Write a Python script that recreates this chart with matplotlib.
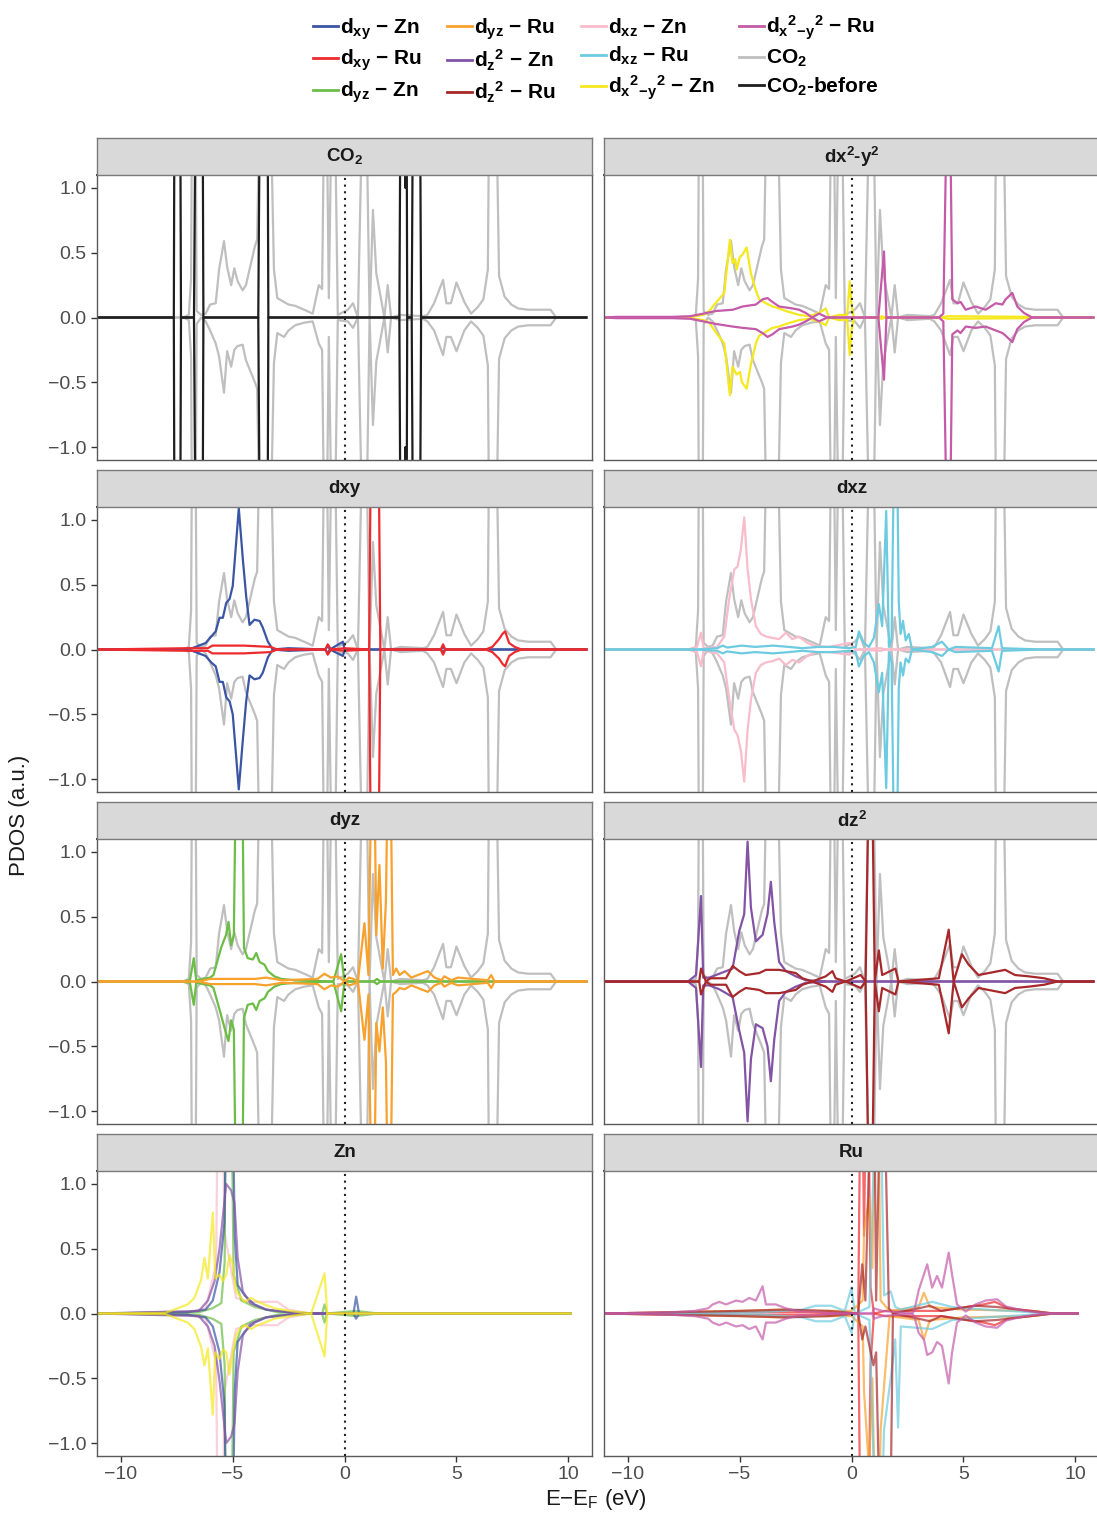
import numpy as np
import matplotlib.pyplot as plt
from matplotlib.lines import Line2D

plt.rcParams['font.family'] = ['Liberation Sans', 'DejaVu Sans']
plt.rcParams['mathtext.fontset'] = 'custom'
plt.rcParams['mathtext.rm'] = 'Liberation Sans'
plt.rcParams['mathtext.bf'] = 'Liberation Sans:bold'
plt.rcParams['mathtext.it'] = 'Liberation Sans:italic'
plt.rcParams['mathtext.default'] = 'bf'

# ---- data (energy in eV, spin-up and spin-down magnitudes) ----
# values above the axis range (clipped peaks) are rough estimates
co2_e = [-11.0, -7.2, -6.95, -6.85, -6.78, -6.68, -6.6, -6.4, -6.2, -6.0, -5.75, -5.6, -5.38, -5.24, -5.06,
         -4.92, -4.77, -4.55, -4.4, -4.0, -3.9, -3.7, -3.4, -3.15, -3.0, -2.7, -2.5, -2.2, -1.8, -1.42,
         -1.15, -1.0, -0.85, -0.7, -0.5, -0.3, 0.15, 0.38, 0.6, 0.9, 1.12, 1.27, 1.42, 1.56, 1.78,
         1.93, 2.08, 2.5, 3.5, 3.7, 4.0, 4.4, 4.55, 4.75, 5.0, 5.35, 5.65, 5.95, 6.2, 6.4,
         6.5, 6.7, 6.9, 7.15, 7.45, 7.75, 8.2, 9.2, 9.45, 10.8]
co2_up = [0, 0, 0.02, 0.3, 2.5, 2.5, 0.05, 0.02, 0.03, 0.1, 0.11, 0.37, 0.59, 0.39, 0.25,
          0.38, 0.28, 0.21, 0.25, 0.55, 0.6, 2.5, 2.5, 0.37, 0.15, 0.12, 0.1, 0.09, 0.06, 0.03,
          0.25, 0.22, 2.5, 0.15, 2.5, 0.02, 0.06, 0.11, 0.0, 2.5, 0.0, 0.83, 0.34, 0.21, 0.0,
          0.25, 0.0, 0.02, 0.01, 0.02, 0.11, 0.29, 0.11, 0.11, 0.27, 0.12, 0.03, 0.08, 0.14, 0.37,
          2.5, 2.5, 0.32, 0.16, 0.1, 0.07, 0.06, 0.06, 0.0, 0]
co2_dn = [0, 0, 0.02, 0.3, 2.5, 2.5, 0.05, 0.0, 0.03, 0.1, 0.2, 0.3, 0.58, 0.26, 0.38,
          0.25, 0.22, 0.21, 0.33, 0.5, 0.55, 2.5, 2.5, 0.35, 0.12, 0.15, 0.1, 0.06, 0.04, 0.03,
          0.2, 0.25, 2.5, 0.15, 2.5, 0.02, 0.03, 0.08, 0.0, 2.5, 0.0, 0.83, 0.34, 0.21, 0.0,
          0.27, 0.0, 0.02, 0.01, 0.03, 0.1, 0.29, 0.15, 0.15, 0.26, 0.1, 0.03, 0.08, 0.14, 0.37,
          2.5, 2.5, 0.32, 0.16, 0.1, 0.07, 0.06, 0.06, 0.0, 0]

before_e = [-11.0, -7.62, -7.58, -7.35, -7.3, -6.72, -6.62, -6.35, -6.3, -3.85, -3.75, -3.45, -3.4,
            2.45, 2.52, 2.68, 2.72, 2.76, 2.8, 3.0, 3.08, 3.35, 3.42, 10.8]
before_up = [0, 0, 2.5, 2.5, 0, 0, 2.5, 2.5, 0, 0, 2.5, 2.5, 0,
             0, 2.5, 2.5, 1.0, 2.5, 0, 0, 2.5, 2.5, 0, 0]
before_dn = before_up

# d(x2-y2) - Zn
x2zn_e = [-11.0, -7.3, -7.0, -6.6, -6.35, -6.12, -5.68, -5.43, -5.31, -5.19, -5.13, -4.98, -4.89, -4.68,
          -4.49, -4.27, -4.12, -3.82, -3.53, -3.23, -2.93, -2.64, -2.34, -1.89, -1.45, -1.15, -1.0,
          -0.56, -0.19, -0.08, 0.0, 0.11, 1.2, 1.35, 1.5, 4.0, 4.3, 8.0, 8.3, 10.8]
x2zn_up = [0, 0, 0.01, 0.02, 0.05, 0.1, 0.19, 0.6, 0.42, 0.45, 0.37, 0.47, 0.48, 0.54,
           0.34, 0.21, 0.14, 0.11, 0.085, 0.07, 0.05, 0.035, 0.02, 0.01, 0.035, 0.07, 0.0,
           0.02, 0.02, 0.28, 0.1, 0.0, 0.0, 0.01, 0, 0, 0.01, 0.005, 0, 0]
x2zn_dn = [0, 0, 0.01, 0.02, 0.04, 0.1, 0.2, 0.6, 0.38, 0.42, 0.44, 0.42, 0.5, 0.55,
           0.36, 0.2, 0.14, 0.11, 0.08, 0.07, 0.05, 0.035, 0.02, 0.01, 0.03, 0.06, 0.0,
           0.02, 0.02, 0.29, 0.1, 0.0, 0.0, 0.01, 0, 0, 0.01, 0.005, 0, 0]

# d(x2-y2) - Ru
x2ru_e = [-11.0, -10.5, -8.0, -7.2, -6.9, -6.05, -5.3, -4.86, -4.27, -3.97, -3.75, -3.53, -3.23, -2.64,
          -2.34, -2.04, -1.75, -1.45, -1.08, 1.2, 1.45, 1.56, 3.9, 4.1, 4.34, 4.5, 4.73, 4.87,
          5.1, 5.54, 5.99, 6.44, 6.74, 6.88, 7.18, 7.4, 7.7, 8.06, 10.8]
x2ru_up = [0, 0.005, 0.005, 0.01, 0.02, 0.05, 0.06, 0.085, 0.1, 0.14, 0.15, 0.12, 0.085, 0.07,
           0.06, 0.035, 0.0, 0.03, 0.0, 0.0, 0.51, 0.0, 0.0, 0.03, 2.5, 0.14, 0.11, 0.12,
           0.06, 0.085, 0.06, 0.11, 0.1, 0.14, 0.19, 0.085, 0.035, 0.0, 0]
x2ru_dn = [0, 0.005, 0.005, 0.01, 0.02, 0.05, 0.07, 0.08, 0.09, 0.12, 0.15, 0.13, 0.09, 0.07,
           0.055, 0.03, 0.0, 0.03, 0.0, 0.0, 0.48, 0.0, 0.0, 0.03, 2.5, 0.13, 0.1, 0.12,
           0.07, 0.08, 0.07, 0.1, 0.12, 0.14, 0.19, 0.09, 0.035, 0.0, 0]

# dxy - Zn
xyzn_e = [-11.0, -7.2, -6.8, -6.2, -5.95, -5.75, -5.58, -5.43, -5.28, -5.13, -4.99, -4.84, -4.72, -4.54,
          -4.39, -4.24, -4.02, -3.79, -3.65, -3.42, -3.2, -2.5, -0.85, -0.75, -0.65, -0.07, 0.0,
          4.3, 4.4, 4.5, 10.8]
xyzn_up = [0, 0, 0.01, 0.05, 0.1, 0.14, 0.245, 0.245, 0.36, 0.39, 0.49, 0.82, 1.09, 0.7,
           0.41, 0.19, 0.23, 0.22, 0.17, 0.06, 0.0, 0.01, 0.0, 0.03, 0.0, 0.06, 0.0,
           0, 0.02, 0, 0]
xyzn_dn = [0, 0, 0.01, 0.05, 0.1, 0.13, 0.25, 0.25, 0.37, 0.4, 0.5, 0.82, 1.08, 0.7,
           0.4, 0.2, 0.23, 0.22, 0.18, 0.06, 0.0, 0.01, 0.0, 0.03, 0.0, 0.05, 0.0,
           0, 0.02, 0, 0]

# dxy - Ru
xyru_e = [-11.0, -7.0, -6.1, -5.9, -4.5, -3.3, -3.0, -0.85, -0.75, -0.6, 0.0, 1.1, 1.22, 1.48, 1.6,
          4.3, 4.4, 4.5, 6.3, 6.6, 6.9, 7.05, 7.17, 7.35, 7.6, 7.9, 10.8]
xyru_up = [0, 0.01, 0.01, 0.03, 0.03, 0.02, 0.0, 0.0, 0.04, 0.0, 0.01, 0.0, 2.5, 2.5, 0.0,
           0.0, 0.04, 0.0, 0.0, 0.02, 0.08, 0.12, 0.14, 0.05, 0.02, 0.0, 0]
xyru_dn = [0, 0.01, 0.01, 0.03, 0.03, 0.02, 0.0, 0.0, 0.04, 0.0, 0.01, 0.0, 2.5, 2.5, 0.0,
           0.0, 0.04, 0.0, 0.0, 0.02, 0.07, 0.11, 0.13, 0.05, 0.02, 0.0, 0]

# dxz - Zn
xzzn_e = [-11.0, -7.3, -6.9, -6.72, -6.6, -6.0, -5.68, -5.46, -5.23, -5.09, -4.94, -4.79, -4.64, -4.49,
          -4.27, -4.05, -3.82, -3.53, -3.23, -2.93, -2.64, -2.34, -1.97, -1.6, -1.0, -0.1, 0.2,
          1.3, 1.5, 8.0, 10.8]
xzzn_up = [0, 0, 0.02, 0.13, 0.01, 0.02, 0.1, 0.39, 0.62, 0.64, 0.77, 1.02, 0.62, 0.39,
           0.18, 0.12, 0.1, 0.09, 0.08, 0.13, 0.08, 0.1, 0.05, 0.025, 0.02, 0.05, 0.0,
           0.01, 0, 0, 0]
xzzn_dn = [0, 0, 0.02, 0.13, 0.01, 0.03, 0.1, 0.38, 0.62, 0.66, 0.78, 1.02, 0.62, 0.39,
           0.18, 0.12, 0.1, 0.09, 0.07, 0.12, 0.08, 0.1, 0.05, 0.02, 0.02, 0.04, 0.0,
           0.01, 0, 0, 0]

# dxz - Ru
xzru_e = [-11.0, -7.0, -6.0, -5.75, -5.55, -4.9, -4.3, -3.5, -2.8, -2.2, -1.5, -0.8, -0.1, 0.19,
          0.33, 0.55, 0.78, 1.0, 1.22, 1.37, 1.55, 1.67, 1.79, 1.97, 2.11, 2.19, 2.3, 2.42,
          2.56, 2.7, 3.6, 4.04, 4.34, 4.64, 6.27, 6.57, 6.72, 8.5, 10.8]
xzru_up = [0, 0, 0.01, 0.03, 0.015, 0.03, 0.02, 0.03, 0.02, 0.01, 0.02, 0.02, 0.01, 0.02,
           0.14, 0.05, 0.02, 0.09, 0.35, 0.18, 1.07, 0.02, 0.08, 2.5, 0.37, 0.12, 0.22, 0.07,
           0.12, 0.0, 0.02, 0.06, 0.0, 0.02, 0.01, 0.18, 0.01, 0.0, 0]
xzru_dn = [0, 0, 0.01, 0.03, 0.015, 0.03, 0.02, 0.03, 0.02, 0.01, 0.02, 0.02, 0.01, 0.02,
           0.13, 0.05, 0.02, 0.1, 0.33, 0.18, 1.07, 0.02, 0.1, 2.5, 0.3, 0.1, 0.2, 0.07,
           0.1, 0.0, 0.02, 0.05, 0.0, 0.02, 0.01, 0.17, 0.01, 0.0, 0]

# dyz - Zn
yzzn_e = [-11.0, -7.3, -6.9, -6.73, -6.62, -6.0, -5.85, -5.51, -5.29, -5.18, -5.06, -4.94, -4.79, -4.61,
          -4.49, -4.32, -4.09, -3.94, -3.79, -3.57, -3.42, -3.13, -2.83, -2.23, -0.5, -0.15, 0.0,
          1.3, 1.45, 1.6, 10.8]
yzzn_up = [0, 0, 0.01, 0.18, 0.01, 0.03, 0.05, 0.26, 0.36, 0.46, 0.28, 0.36, 2.5, 2.5,
           0.26, 0.18, 0.17, 0.22, 0.15, 0.13, 0.08, 0.04, 0.02, 0.01, 0.0, 0.21, 0.0,
           0.0, 0.02, 0, 0]
yzzn_dn = [0, 0, 0.01, 0.18, 0.01, 0.03, 0.05, 0.26, 0.4, 0.46, 0.3, 0.37, 2.5, 2.5,
           0.28, 0.18, 0.17, 0.22, 0.15, 0.13, 0.08, 0.04, 0.02, 0.01, 0.0, 0.23, 0.0,
           0.0, 0.02, 0, 0]

# dyz - Ru
yzru_e = [-11.0, -6.5, -6.0, -5.0, -4.0, -3.5, -2.8, -1.2, -0.9, -0.6, -0.3, 0.0, 0.2, 0.4, 0.6,
          0.89, 1.07, 1.27, 1.42, 1.56, 1.71, 1.85, 2.0, 2.16, 2.31, 2.46, 2.68, 2.98, 3.72,
          4.02, 4.32, 4.46, 4.76, 5.06, 6.4, 6.55, 6.7, 10.8]
yzru_up = [0, 0.0, 0.02, 0.02, 0.02, 0.03, 0.01, 0.02, 0.06, 0.03, 0.04, 0.0, 0.03, 0.02, 0.0,
           0.45, 0.05, 2.5, 0.36, 0.9, 0.1, 0.62, 2.5, 0.05, 0.1, 0.05, 0.08, 0.03, 0.08,
           0.03, 0.01, 0.04, 0.01, 0.03, 0.01, 0.05, 0.0, 0]
yzru_dn = [0, 0.0, 0.02, 0.02, 0.02, 0.03, 0.01, 0.02, 0.06, 0.03, 0.04, 0.0, 0.03, 0.02, 0.0,
           0.45, 0.1, 2.5, 0.32, 0.54, 0.2, 0.62, 2.5, 0.1, 0.08, 0.05, 0.06, 0.03, 0.08,
           0.03, 0.01, 0.04, 0.01, 0.03, 0.01, 0.05, 0.0, 0]

# dz2 - Zn
z2zn_e = [-11.0, -7.3, -6.94, -6.72, -6.62, -6.35, -5.9, -5.6, -5.31, -5.01, -4.79, -4.64, -4.49, -4.27,
          -3.97, -3.75, -3.6, -3.45, -3.23, -2.93, -2.49, -2.04, -1.0, 10.8]
z2zn_up = [0, 0, 0.05, 0.66, 0.03, 0.03, 0.06, 0.08, 0.1, 0.39, 0.52, 1.08, 0.57, 0.31,
           0.36, 0.52, 0.77, 0.46, 0.15, 0.08, 0.04, 0.01, 0, 0]
z2zn_dn = [0, 0, 0.05, 0.66, 0.03, 0.03, 0.06, 0.09, 0.12, 0.38, 0.55, 1.08, 0.6, 0.33,
           0.36, 0.5, 0.77, 0.45, 0.15, 0.08, 0.04, 0.01, 0, 0]

# dz2 - Ru
z2ru_e = [-11.0, -6.8, -6.72, -6.5, -6.3, -5.6, -5.31, -5.01, -4.72, -4.12, -3.82, -3.23, -2.93, -2.49,
          -2.19, -1.75, -1.15, -0.85, -0.71, -0.26, 0.41, 0.63, 0.85, 1.04, 1.22, 1.37, 1.96,
          2.1, 3.9, 4.34, 4.56, 4.93, 5.23, 5.67, 6.56, 6.86, 7.3, 7.9, 8.6, 9.2, 10.8]
z2ru_up = [0, 0.0, 0.1, 0.0, 0.025, 0.025, 0.12, 0.08, 0.05, 0.065, 0.09, 0.09, 0.08, 0.065,
           0.025, 0.0, 0.04, 0.08, 0.025, 0.0, 0.05, 0.0, 2.5, 0.0, 0.24, 0.05, 0.1,
           0.0, 0.025, 0.4, 0.0, 0.21, 0.13, 0.05, 0.08, 0.09, 0.05, 0.04, 0.025, 0.0, 0]
z2ru_dn = [0, 0.0, 0.1, 0.0, 0.025, 0.025, 0.12, 0.08, 0.05, 0.065, 0.09, 0.09, 0.08, 0.065,
           0.025, 0.0, 0.04, 0.08, 0.025, 0.0, 0.05, 0.0, 2.5, 0.0, 0.23, 0.05, 0.1,
           0.0, 0.025, 0.4, 0.0, 0.2, 0.13, 0.05, 0.08, 0.09, 0.05, 0.04, 0.025, 0.0, 0]

# Zn panel (separate data, ends at 10 eV)
znp_yel_e = [-11.0, -8.0, -7.0, -6.7, -6.4, -6.25, -6.1, -5.88, -5.77, -5.58, -5.43, -5.28, -5.13, -4.99,
             -4.84, -4.69, -4.46, -4.17, -3.87, -3.57, -3.13, -2.23, -1.49, -0.89, -0.77, 10.1]
znp_yel_up = [0, 0.005, 0.07, 0.12, 0.26, 0.43, 0.27, 0.78, 0.27, 0.3, 0.25, 0.3, 0.45, 0.38,
              0.17, 0.14, 0.09, 0.12, 0.09, 0.07, 0.04, 0.015, 0.0, 0.31, 0.0, 0]
znp_yel_dn = [0, 0.005, 0.07, 0.12, 0.26, 0.4, 0.27, 0.78, 0.3, 0.35, 0.28, 0.3, 0.47, 0.3,
              0.17, 0.12, 0.09, 0.12, 0.09, 0.07, 0.04, 0.015, 0.0, 0.33, 0.0, 0]
znp_blu_e = [-11.0, -7.0, -6.2, -5.88, -5.58, -5.36, -5.2, -5.06, -4.9, -4.77, -4.46, -4.02, -3.5,
             -2.5, -1.5, 0.4, 0.52, 0.65, 1.5, 10.1]
znp_blu_up = [0, 0.01, 0.03, 0.1, 0.32, 0.7, 2.5, 2.5, 0.6, 0.22, 0.14, 0.07, 0.03,
              0.01, 0.0, 0.0, 0.13, 0.0, 0, 0]
znp_blu_dn = [0, 0.01, 0.03, 0.1, 0.3, 0.7, 2.5, 2.5, 0.6, 0.22, 0.14, 0.07, 0.03,
              0.01, 0.0, 0.0, 0.04, 0.0, 0, 0]
znp_pur_e = [-11.0, -6.5, -6.1, -5.8, -5.58, -5.28, -5.06, -4.91, -4.77, -4.54, -4.2, -3.5, -2.0, 10.1]
znp_pur_up = [0, 0.02, 0.1, 0.25, 0.5, 1.0, 0.95, 0.85, 0.43, 0.17, 0.08, 0.03, 0.0, 0]
znp_pur_dn = [0, 0.02, 0.1, 0.25, 0.52, 1.0, 0.95, 0.85, 0.45, 0.17, 0.08, 0.03, 0.0, 0]
znp_grn_e = [-11.0, -6.5, -5.9, -5.5, -5.35, -5.28, -5.1, -4.95, -4.6, -4.0, -3.0, -1.0, -0.89, -0.78,
             0.5, 1.5, 10.1]
znp_grn_up = [0, 0.01, 0.04, 0.08, 0.4, 2.5, 2.5, 0.3, 0.1, 0.05, 0.01, 0.0, 0.07, 0.0, 0.02, 0, 0]
znp_grn_dn = [0, 0.01, 0.04, 0.08, 0.4, 2.5, 2.5, 0.3, 0.1, 0.05, 0.01, 0.0, 0.07, 0.0, 0.02, 0, 0]
znp_pnk_e = [-11.0, -7.0, -6.2, -5.95, -5.73, -5.62, -5.5, -5.36, -4.84, -4.3, -3.0, -2.5, -1.5, 10.1]
znp_pnk_up = [0, 0.01, 0.04, 0.22, 0.38, 2.5, 2.5, 0.63, 0.12, 0.09, 0.09, 0.03, 0.0, 0]
znp_pnk_dn = [0, 0.01, 0.04, 0.22, 0.38, 2.5, 2.5, 0.6, 0.12, 0.09, 0.09, 0.03, 0.0, 0]

# Ru panel (separate data, ends at 10 eV)
rup_mag_e = [-11.0, -8.0, -7.0, -6.4, -6.2, -5.9, -5.6, -5.15, -4.86, -4.57, -4.27, -3.97, -3.82, -3.38,
             -2.93, -2.34, -1.6, -0.85, 0.93, 1.0, 1.37, 2.7, 2.8, 3.0, 3.23, 3.38, 3.6, 3.82, 4.04,
             4.34, 4.49, 4.71, 5.1, 5.54, 5.99, 6.5, 6.89, 7.48, 8.0, 8.8, 10.1]
rup_mag_up = [0, 0.01, 0.02, 0.04, 0.07, 0.09, 0.07, 0.1, 0.09, 0.12, 0.1, 0.21, 0.07, 0.07,
              0.04, 0.015, 0.015, 0.0, 0.0, 0.04, 0.02, 0.0, 0.02, 0.18, 0.3, 0.38, 0.2, 0.29, 0.2,
              0.47, 0.3, 0.07, 0.015, 0.07, 0.1, 0.11, 0.055, 0.03, 0.015, 0.0, 0]
rup_mag_dn = [0, 0.01, 0.02, 0.04, 0.07, 0.09, 0.07, 0.1, 0.09, 0.12, 0.1, 0.2, 0.07, 0.07,
              0.04, 0.015, 0.015, 0.0, 0.0, 0.04, 0.02, 0.0, 0.02, 0.15, 0.2, 0.32, 0.3, 0.22, 0.25,
              0.54, 0.3, 0.07, 0.015, 0.07, 0.1, 0.11, 0.055, 0.03, 0.015, 0.0, 0]
rup_red_e = [-11.0, -5.0, -2.0, 0.3, 0.44, 0.56, 0.7, 0.85, 1.0, 1.5, 4.0, 5.9, 6.4, 7.0, 8.0, 9.0, 10.1]
rup_red_up = [0, 0.01, 0.01, 0.0, 2.5, 0.6, 2.5, 0.2, 0.0, 0.02, 0.02, 0.07, 0.09, 0.04, 0.02, 0.0, 0]
rup_red_dn = [0, 0.01, 0.01, 0.0, 2.5, 1.2, 2.5, 0.4, 0.0, 0.02, 0.02, 0.07, 0.09, 0.04, 0.02, 0.0, 0]
rup_org_e = [-11.0, -5.0, -3.0, -1.5, 0.0, 0.5, 0.56, 0.78, 0.93, 1.15, 1.3, 1.7, 3.0, 3.23, 3.5,
             5.0, 8.0, 9.0, 10.1]
rup_org_up = [0, 0.02, 0.03, 0.02, 0.02, 0.1, 0.63, 0.89, 0.35, 2.5, 0.1, 0.02, 0.05, 0.16, 0.05,
              0.03, 0.02, 0, 0]
rup_org_dn = [0, 0.02, 0.03, 0.02, 0.02, 0.1, 0.6, 1.2, 0.5, 2.5, 0.9, 0.02, 0.05, 0.2, 0.05,
              0.03, 0.02, 0, 0]
rup_cyn_e = [-11.0, -4.0, -2.2, -1.6, -0.9, -0.3, 0.0, 0.15, 0.8, 1.22, 1.45, 1.75, 1.95, 2.08, 2.2,
             3.6, 4.5, 6.0, 8.0, 9.0, 10.1]
rup_cyn_up = [0, 0.01, 0.03, 0.06, 0.06, 0.02, 0.2, 0.0, 0.05, 2.5, 0.14, 0.17, 0.05, 0.04, 0.03,
              0.09, 0.05, 0.03, 0.01, 0, 0]
rup_cyn_dn = [0, 0.01, 0.03, 0.06, 0.06, 0.02, 0.15, 0.0, 0.05, 2.5, 0.9, 0.5, 0.2, 0.88, 0.1,
              0.12, 0.05, 0.03, 0.01, 0, 0]
rup_drd_e = [-11.0, -5.0, -3.0, -1.0, 0.3, 0.48, 0.62, 0.98, 1.1, 1.37, 1.67, 1.85, 3.0, 3.5, 4.0,
             5.5, 6.5, 8.0, 9.0, 10.1]
rup_drd_up = [0, 0.02, 0.03, 0.02, 0.0, 0.38, 0.1, 2.5, 0.1, 2.5, 0.04, 0.0, 0.04, 0.06, 0.02,
              0.06, 0.05, 0.02, 0, 0]
rup_drd_dn = [0, 0.02, 0.03, 0.02, 0.0, 0.2, 0.1, 0.4, 0.3, 2.5, 2.5, 0.0, 0.04, 0.06, 0.02,
              0.06, 0.05, 0.02, 0, 0]

# colours
c_xyzn = '#3a55a4'
c_xyru = '#ee2a2e'
c_yzzn = '#6bbd45'
c_yzru = '#f8a12c'
c_z2zn = '#8353a5'
c_z2ru = '#a7282b'
c_xzzn = '#f8bccb'
c_xzru = '#6ccbe0'
c_x2zn = '#f5e81c'
c_x2ru = '#c55aa9'
c_co2 = '#bfbfbf'
c_bef = '#1e1e1e'

W, H = 1097, 1517
fig = plt.figure(figsize=(W / 100, H / 100), dpi=100)

col_left = [97, 604]
pan_w = 495
row_top = [175, 507, 839, 1171]
pan_h = 285
strip_h = 37

titles = [['CO$_2$', 'dx$^2$-y$^2$'], ['dxy', 'dxz'], ['dyz', 'dz$^2$'], ['Zn', 'Ru']]


def line(ax, e, up, dn, color, alpha=1.0, lw=1.6):
    ax.plot(e, up, color=color, lw=lw, alpha=alpha, solid_joinstyle='round')
    ax.plot(e, -np.array(dn), color=color, lw=lw, alpha=alpha, solid_joinstyle='round')


axes = {}
for r in range(4):
    for c in range(2):
        l = col_left[c] / W
        b = 1 - (row_top[r] + pan_h) / H
        ax = fig.add_axes([l, b, pan_w / W, pan_h / H])
        sax = fig.add_axes([l, 1 - row_top[r] / H, pan_w / W, strip_h / H])
        sax.set_facecolor('#d9d9d9')
        sax.set_xticks([])
        sax.set_yticks([])
        for s in sax.spines.values():
            s.set_color('#7a7a7a')
            s.set_linewidth(1.0)
        sax.text(0.5, 0.5, titles[r][c], transform=sax.transAxes, ha='center', va='center',
                 fontsize=13.5, fontweight='bold', color='#1a1a1a')
        ax.set_xlim(-11.05, 11.05)
        ax.set_ylim(-1.1, 1.1)
        ax.set_xticks([-10, -5, 0, 5, 10])
        ax.set_yticks([-1.0, -0.5, 0.0, 0.5, 1.0])
        ax.tick_params(direction='out', length=4, width=1, color='#333333',
                       labelcolor='#4d4d4d', labelsize=14)
        if c == 1:
            ax.tick_params(axis='y', left=False, labelleft=False)
        else:
            ax.set_yticklabels(['\u22121.0', '\u22120.5', '0.0', '0.5', '1.0'])
        if r < 3:
            ax.tick_params(axis='x', bottom=False, labelbottom=False)
        else:
            ax.set_xticklabels(['\u221210', '\u22125', '0', '5', '10'])
        for s in ax.spines.values():
            s.set_color('#5a5a5a')
            s.set_linewidth(1.0)
        ax.spines['top'].set_color('#333333')
        ax.spines['top'].set_linewidth(1.4)
        ax.axvline(0, color='#222222', lw=1.5, ls=(0, (1, 2.2)), zorder=5)
        axes[(r, c)] = ax

# grey CO2 in every orbital panel
for key in [(0, 0), (0, 1), (1, 0), (1, 1), (2, 0), (2, 1)]:
    line(axes[key], co2_e, co2_up, co2_dn, c_co2)

line(axes[(0, 0)], before_e, before_up, before_dn, c_bef)
line(axes[(0, 1)], x2zn_e, x2zn_up, x2zn_dn, c_x2zn)
line(axes[(0, 1)], x2ru_e, x2ru_up, x2ru_dn, c_x2ru)
line(axes[(1, 0)], xyzn_e, xyzn_up, xyzn_dn, c_xyzn)
line(axes[(1, 0)], xyru_e, xyru_up, xyru_dn, c_xyru)
line(axes[(1, 1)], xzzn_e, xzzn_up, xzzn_dn, c_xzzn)
line(axes[(1, 1)], xzru_e, xzru_up, xzru_dn, c_xzru)
line(axes[(2, 0)], yzzn_e, yzzn_up, yzzn_dn, c_yzzn)
line(axes[(2, 0)], yzru_e, yzru_up, yzru_dn, c_yzru)
line(axes[(2, 1)], z2zn_e, z2zn_up, z2zn_dn, c_z2zn)
line(axes[(2, 1)], z2ru_e, z2ru_up, z2ru_dn, c_z2ru)

a = 0.7
line(axes[(3, 0)], znp_pnk_e, znp_pnk_up, znp_pnk_dn, c_xzzn, a)
line(axes[(3, 0)], znp_grn_e, znp_grn_up, znp_grn_dn, c_yzzn, a)
line(axes[(3, 0)], znp_blu_e, znp_blu_up, znp_blu_dn, c_xyzn, a)
line(axes[(3, 0)], znp_pur_e, znp_pur_up, znp_pur_dn, c_z2zn, a)
line(axes[(3, 0)], znp_yel_e, znp_yel_up, znp_yel_dn, c_x2zn, a)

line(axes[(3, 1)], rup_red_e, rup_red_up, rup_red_dn, c_xyru, a)
line(axes[(3, 1)], rup_org_e, rup_org_up, rup_org_dn, c_yzru, a)
line(axes[(3, 1)], rup_cyn_e, rup_cyn_up, rup_cyn_dn, c_xzru, a)
line(axes[(3, 1)], rup_drd_e, rup_drd_up, rup_drd_dn, c_z2ru, a)
line(axes[(3, 1)], rup_mag_e, rup_mag_up, rup_mag_dn, c_x2ru, a)

# legend
leg_labels = ['d$_{xy}$ \u2212 Zn', 'd$_{xy}$ \u2212 Ru', 'd$_{yz}$ \u2212 Zn',
              'd$_{yz}$ \u2212 Ru', 'd$_{z}$$^{2}$ \u2212 Zn', 'd$_{z}$$^{2}$ \u2212 Ru',
              'd$_{xz}$ \u2212 Zn', 'd$_{xz}$ \u2212 Ru', 'd$_{x}$$^{2}$$_{-y}$$^{2}$ \u2212 Zn',
              'd$_{x}$$^{2}$$_{-y}$$^{2}$ \u2212 Ru', 'CO$_{2}$', 'CO$_{2}$-before']
leg_colors = [c_xyzn, c_xyru, c_yzzn, c_yzru, c_z2zn, c_z2ru,
              c_xzzn, c_xzru, c_x2zn, c_x2ru, c_co2, c_bef]
handles = [Line2D([], [], color=col, lw=2) for col in leg_colors]
fig.legend(handles, leg_labels, ncol=4, loc='upper center', bbox_to_anchor=(0.543, 1.0),
           frameon=False, prop={'weight': 'bold', 'size': 15}, handlelength=1.2,
           handletextpad=0.1, columnspacing=1.2, labelspacing=0.3, borderaxespad=0.25)

fig.text(0.543, 1 - 1500 / H, 'E\u2212E$_\\mathrm{F}$ (eV)', ha='center', va='center',
         fontsize=16, color='#1a1a1a')
fig.text(20 / W, 1 - 815 / H, 'PDOS (a.u.)', ha='center', va='center', rotation=90,
         fontsize=16, color='#1a1a1a')

fig.savefig('out.png', dpi=100)
